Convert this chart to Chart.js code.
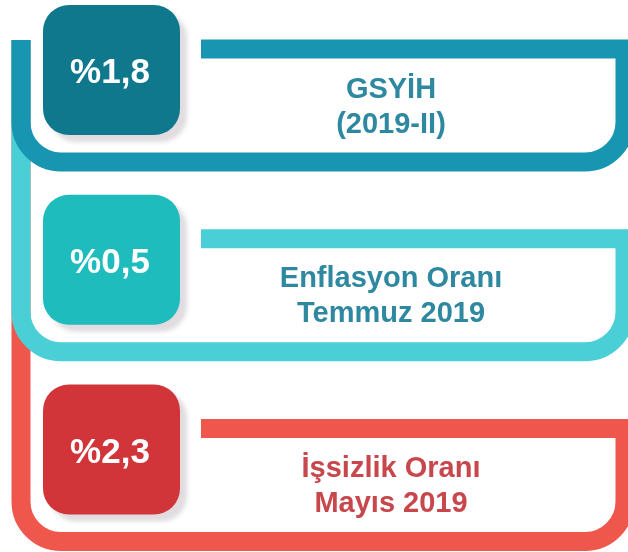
<!DOCTYPE html>
<html lang="tr">
<head>
<meta charset="utf-8">
<script src="https://cdn.jsdelivr.net/npm/chart.js@4/dist/chart.umd.min.js"></script>
<style>
  html, body { margin: 0; padding: 0; background: #ffffff; }
  #kutu { width: 628px; height: 552px; }
</style>
</head>
<body>
<div id="kutu"><canvas id="grafik"></canvas></div>
<script>
// Göstergeler
const gostergeler = ["GSYİH", "Enflasyon Oranı", "İşsizlik Oranı"];
const basliklar = [["GSYİH", "(2019-II)"], ["Enflasyon Oranı", "Temmuz 2019"], ["İşsizlik Oranı", "Mayıs 2019"]];
const degerler = [1.8, 0.5, 2.3];

// Renkler
const cizgiRenkleri = ["#1795b1", "#4acfd6", "#f0574c"];
const kutuRenkleri = ["#10788c", "#1fbcbd", "#d13539"];
const yaziRenkleri = ["#2e88a0", "#2e88a0", "#c8474c"];

const yuzdeYaz = (v) => "%" + v.toString().replace(".", ",");

// Kartları çizen eklenti
const kartlar = {
  id: "kartlar",
  afterDatasetsDraw(chart) {
    const ctx = chart.ctx;
    const y = chart.scales.y;
    const alan = chart.chartArea;
    const sol = alan.left + 21;
    const sag = alan.left + 625;
    const ust = y.getPixelForValue(0) - 65.5;
    const R = 40;

    for (let i = degerler.length - 1; i >= 0; i--) {
      const yc = y.getPixelForValue(i);
      const alt = yc + 56.5;

      // Çerçeve çizgisi
      ctx.save();
      ctx.strokeStyle = cizgiRenkleri[i];
      ctx.lineWidth = 19;
      ctx.lineCap = "butt";
      ctx.lineJoin = "miter";
      ctx.beginPath();
      ctx.moveTo(sol, ust);
      ctx.lineTo(sol, alt - R);
      ctx.arcTo(sol, alt, sol + R, alt, R);
      ctx.lineTo(sag - R, alt);
      ctx.arcTo(sag, alt, sag, alt - R, R);
      ctx.lineTo(sag, yc - 56.5);
      ctx.lineTo(alan.left + 201, yc - 56.5);
      ctx.stroke();
      ctx.restore();

      // Değer kutusu
      const kx = alan.left + 43, ky = yc - 100.5;
      ctx.save();
      ctx.shadowColor = "rgba(60,40,60,0.16)";
      ctx.shadowOffsetX = 7;
      ctx.shadowOffsetY = 7;
      ctx.shadowBlur = 4;
      ctx.fillStyle = kutuRenkleri[i];
      ctx.beginPath();
      ctx.roundRect(kx, ky, 137, 130, 26);
      ctx.fill();
      ctx.restore();

      ctx.save();
      ctx.fillStyle = "#ffffff";
      ctx.font = "bold 35px 'Liberation Sans', Arial, sans-serif";
      ctx.textAlign = "center";
      ctx.textBaseline = "alphabetic";
      ctx.fillText(yuzdeYaz(degerler[i]), kx + 67, ky + 78);

      // Başlıklar
      ctx.fillStyle = yaziRenkleri[i];
      ctx.font = "bold 29px 'Liberation Sans', Arial, sans-serif";
      ctx.fillText(basliklar[i][0], alan.left + 391, yc - 8);
      ctx.fillText(basliklar[i][1], alan.left + 391, yc + 27);
      ctx.restore();
    }
  }
};

new Chart(document.getElementById("grafik"), {
  type: "bar",
  data: {
    labels: gostergeler,
    datasets: [{
      data: degerler,
      backgroundColor: "rgba(0,0,0,0)",
      borderWidth: 0
    }]
  },
  options: {
    indexAxis: "y",
    responsive: true,
    maintainAspectRatio: false,
    animation: false,
    layout: { padding: { top: 105.5, bottom: 67, left: 0, right: 0 } },
    plugins: {
      legend: { display: false },
      tooltip: { enabled: false }
    },
    scales: {
      x: { display: false, min: 0, max: 3 },
      y: { display: false, offset: false, grid: { display: false } }
    }
  },
  plugins: [kartlar]
});
</script>
</body>
</html>
